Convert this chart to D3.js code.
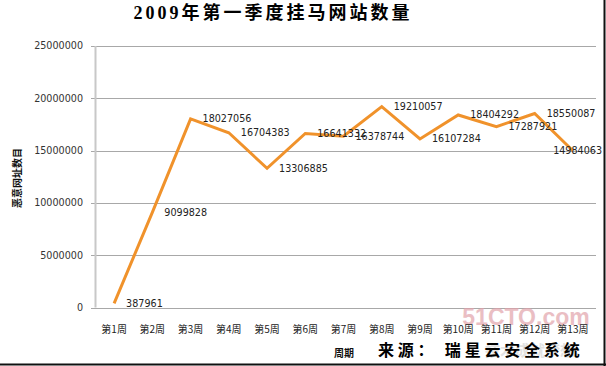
<!DOCTYPE html>
<html><head><meta charset="utf-8">
<script src="https://cdn.jsdelivr.net/npm/d3@7"></script>
<style>
html,body{margin:0;padding:0;background:#fff;}
svg{display:block;}
</style></head>
<body>
<script>
const categories = ["第1周","第2周","第3周","第4周","第5周","第6周","第7周","第8周","第9周","第10周","第11周","第12周","第13周"];
const values = [387961, 9099828, 18027056, 16704383, 13306885, 16641332, 16378744, 19210057, 16107284, 18404292, 17287921, 18550087, 14984063];
const yTicks = [0, 5000000, 10000000, 15000000, 20000000, 25000000];
const titleText = "2009年第一季度挂马网站数量";
const yTitle = "恶意网址数目";
const xTitle = "周期";
const sourceText = "来源： 瑞星云安全系统";

const W = 606, H = 366;
const svg = d3.select("body").append("svg").attr("width", W).attr("height", H);
svg.append("rect").attr("width", W).attr("height", H).attr("fill", "#fff");

const x = d3.scaleBand().domain(categories).range([95, 592]);
const y = d3.scaleLinear().domain([0, 25000000]).range([307.5, 46]);

// gridlines
svg.append("g").selectAll("line").data(yTicks).join("line")
  .attr("x1", 91).attr("x2", 596)
  .attr("y1", d => Math.round(y(d)) + 0.5).attr("y2", d => Math.round(y(d)) + 0.5)
  .attr("stroke", "#a8a8a8").attr("stroke-width", 1);

// y axis line
svg.append("line").attr("x1", 95.5).attr("x2", 95.5).attr("y1", y(25000000)).attr("y2", y(0))
  .attr("stroke", "#c8c8c8").attr("stroke-width", 2);

// y tick labels
svg.append("g").selectAll("text").data(yTicks).join("text")
  .attr("x", 83).attr("y", d => y(d)).attr("dy", "0.35em")
  .attr("text-anchor", "end")
  .attr("font-family", "DejaVu Sans, Verdana, sans-serif").attr("font-size", 9.6)
  .attr("fill", "#333").text(d => d);

// watermark
svg.append("text").attr("x", 526).attr("y", 325).attr("text-anchor", "middle")
  .attr("font-family", "Liberation Sans Narrow, Liberation Sans, sans-serif").attr("font-weight", "bold")
  .attr("font-size", 23).attr("fill", "#e2a3ab").attr("opacity", 0.7).text("51CTO.com");
svg.append("text").attr("x", 530).attr("y", 356).attr("text-anchor", "middle")
  .attr("font-family", "Noto Sans CJK SC, sans-serif").attr("font-weight", "bold")
  .attr("font-size", 15).attr("fill", "#cfcfcf").attr("opacity", 0.6).text("技术成就梦想");

// x labels
svg.append("g").selectAll("text").data(categories).join("text")
  .attr("x", d => x(d) + x.bandwidth() / 2).attr("y", 329).attr("dy", "0.35em")
  .attr("text-anchor", "middle")
  .attr("font-family", "Noto Sans CJK SC, sans-serif").attr("font-size", 10)
  .attr("fill", "#222").text(d => d);

// line
const line = d3.line().x((d, i) => x(categories[i]) + x.bandwidth() / 2).y(d => y(d));
svg.append("path").datum(values).attr("d", line)
  .attr("fill", "none").attr("stroke", "#f0922b").attr("stroke-width", 3)
  .attr("stroke-linejoin", "miter");

// data labels
const lbl = svg.append("g").selectAll("text").data(values).join("text")
  .attr("x", (d, i) => x(categories[i]) + x.bandwidth() / 2 + 12)
  .attr("y", d => y(d)).attr("dy", "0.35em")
  .attr("font-family", "DejaVu Sans, Verdana, sans-serif").attr("font-size", 9.6)
  .attr("fill", "#222").text(d => d);
lbl.each(function() {
  const bb = this.getBBox();
  if (bb.x + bb.width > 602) d3.select(this).attr("x", 602 - bb.width);
});

// axis titles
svg.append("text").attr("transform", "translate(17,178) rotate(-90)")
  .attr("text-anchor", "middle").attr("dy", "0.35em")
  .attr("font-family", "Noto Sans CJK SC, sans-serif").attr("font-size", 10).attr("font-weight", "bold")
  .attr("fill", "#111").text(yTitle);
svg.append("text").attr("x", 344).attr("y", 353).attr("dy", "0.35em").attr("text-anchor", "middle")
  .attr("font-family", "Noto Sans CJK SC, sans-serif").attr("font-size", 10).attr("font-weight", "bold")
  .attr("fill", "#111").text(xTitle);

// title
svg.append("text").attr("x", 273).attr("y", 13).attr("dy", "0.35em").attr("text-anchor", "middle")
  .attr("font-family", "Liberation Serif, Noto Sans CJK SC, serif").attr("font-size", 18)
  .attr("font-weight", "bold").attr("letter-spacing", 3).attr("fill", "#000").text(titleText);

// source
svg.append("text").attr("x", 378).attr("y", 350).attr("dy", "0.35em")
  .attr("font-family", "Noto Sans CJK SC, serif").attr("font-size", 16)
  .attr("font-weight", "bold").attr("letter-spacing", 3.8).attr("fill", "#000").text(sourceText);

// frame shadow (right & bottom)
svg.append("line").attr("x1", 604.5).attr("x2", 604.5).attr("y1", 0).attr("y2", H).attr("stroke", "#111").attr("stroke-width", 2);
svg.append("line").attr("x1", 0).attr("x2", W).attr("y1", 364.5).attr("y2", 364.5).attr("stroke", "#111").attr("stroke-width", 2);
</script>
</body></html>
